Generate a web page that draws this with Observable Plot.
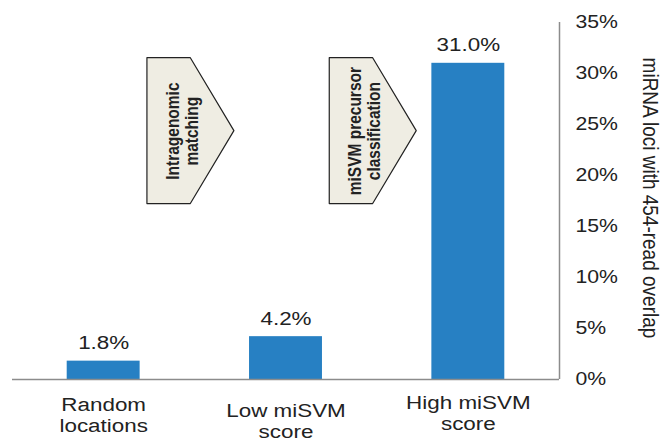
<!DOCTYPE html>
<html>
<head>
<meta charset="utf-8">
<script src="https://cdn.jsdelivr.net/npm/d3@7"></script>
<script src="https://cdn.jsdelivr.net/npm/@observablehq/plot@0.6"></script>
<style>
  html, body { margin: 0; padding: 0; background: #fff; }
  #chart svg { display: block; }
</style>
</head>
<body>
<div id="chart"></div>
<script>
// Categories along the x axis and the share of loci overlapping 454 reads (%)
const categories = ["Random\nlocations", "Low miSVM\nscore", "High miSVM\nscore"];
const values = [1.8, 4.2, 31.0];
const yTicks = [0, 5, 10, 15, 20, 25, 30, 35];
// Pipeline steps shown as arrows between the categories
const stepLabels = ["Intragenomic\nmatching", "miSVM precursor\nclassification"];

const font = "'Liberation Sans', Arial, Helvetica, sans-serif";
const ink = "#222";
const barColor = "#2780c3";
const axisGray = "#8c8c8c";
const widen = 1.18; // typeface is set slightly wide

const bars = values.map((v, i) => ({i, value: v, label: v.toFixed(1) + "%"}));

// Each arrow sits in the gap after category k, spanning a value range
const arrows = stepLabels.map((label, k) => {
  const left = k + 0.24, corner = k + 0.478, tip = k + 0.717;
  const top = 31.5, bottom = 17.2, mid = (top + bottom) / 2;
  return {
    label,
    textX: k + 0.43,
    textY: mid,
    outline: [
      {k, x: left, y1: bottom, y2: top},
      {k, x: corner, y1: bottom, y2: top},
      {k, x: tip, y1: mid, y2: mid}
    ]
  };
});

const xLabelStyle = {tickFormat: i => categories[i], tickSize: 0, fontSize: 19, lineHeight: 1.12, label: null, fill: ink};

const chart = Plot.plot({
  width: 669,
  height: 441,
  marginLeft: 12,
  marginRight: 110,
  marginTop: 22,
  marginBottom: 62,
  style: {fontFamily: font, color: ink, background: "#fff"},
  x: {type: "linear", domain: [-0.5, 2.5]},
  y: {domain: [0, 35]},
  marks: [
    Plot.rectY(bars, {x1: d => d.i - 0.2, x2: d => d.i + 0.2, y: "value", fill: barColor}),
    Plot.text(bars, {x: "i", y: "value", text: "label", dy: -18, fontSize: 19, fill: ink}),
    Plot.areaY(arrows.flatMap(a => a.outline), {
      x: "x", y1: "y1", y2: "y2", z: "k", curve: "linear",
      fill: "#efede3", stroke: ink, strokeWidth: 1.2
    }),
    Plot.text(arrows, {
      x: "textX", y: "textY", text: "label", rotate: -90,
      fontSize: 15.5, fontWeight: "bold", lineHeight: 1.05, fill: ink
    }),
    Plot.ruleY([0], {x1: -0.5, x2: 2.5, stroke: axisGray, strokeWidth: 1.5}),
    Plot.ruleX([2.5], {y1: 0, y2: 35, stroke: axisGray, strokeWidth: 1.5}),
    Plot.axisX({...xLabelStyle, ticks: [0], tickPadding: 16}),
    Plot.axisX({...xLabelStyle, ticks: [1], tickPadding: 22}),
    Plot.axisX({...xLabelStyle, ticks: [2], tickPadding: 14}),
    Plot.axisY({
      anchor: "right", ticks: yTicks, tickFormat: d => d + "%", tickSize: 0,
      tickPadding: 16, fontSize: 18, label: null, fill: ink
    }),
    Plot.text(["miRNA loci with 454-read overlap"], {
      frameAnchor: "right", y: 17.8, text: d => d, rotate: 90, dx: 91,
      textAnchor: "middle", fontSize: 19, fill: ink
    })
  ]
});

// Widen every label horizontally on screen (local y for rotated labels)
d3.select(chart).selectAll("text").each(function () {
  let t = this.getAttribute("transform");
  if (!t) {
    const x = +this.getAttribute("x") || 0, y = +this.getAttribute("y") || 0;
    this.removeAttribute("x");
    this.removeAttribute("y");
    t = `translate(${x},${y})`;
  }
  const rotated = /rotate\(\s*-?90\s*\)/.test(t);
  this.setAttribute("transform", t + (rotated ? ` scale(1,${widen})` : ` scale(${widen},1)`));
});

document.getElementById("chart").appendChild(chart);
</script>
</body>
</html>
